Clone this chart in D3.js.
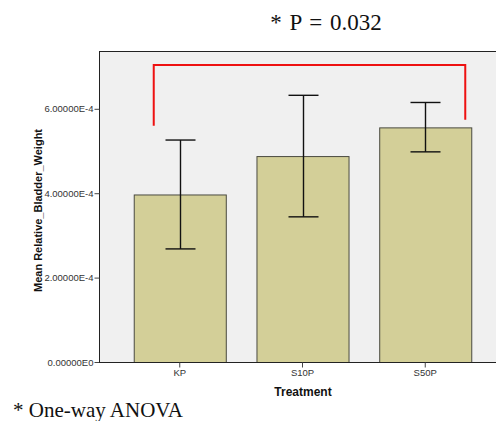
<!DOCTYPE html>
<html>
<head>
<meta charset="utf-8">
<script src="https://d3js.org/d3.v7.min.js"></script>
<style>
  body { margin: 0; background: #fff; }
  svg { display: block; }
</style>
</head>
<body>
<div id="chart"></div>
<script>
// data
const groups = ["KP", "S10P", "S50P"];
const means  = [3.97e-4, 4.88e-4, 5.56e-4];
const errLow = [2.68e-4, 3.44e-4, 4.98e-4];
const errHigh = [5.26e-4, 6.32e-4, 6.15e-4];
const yTicks = [0, 2e-4, 4e-4, 6e-4];
const yTickLabels = ["0.00000E0", "2.00000E-4", "4.00000E-4", "6.00000E-4"];
// significance bracket: level and the two leg ends
const bracketTop = 7.04e-4;
const bracketLegs = [5.6e-4, 5.74e-4];
const pText = "* P = 0.032";
const noteText = "* One-way ANOVA";

const W = 496, H = 421;
const plot = { left: 99, right: 506, top: 51, bottom: 362 };

const svg = d3.select("#chart").append("svg")
    .attr("width", W)
    .attr("height", H);

const x = d3.scaleBand()
    .domain(groups)
    .range([plot.left, plot.right])
    .paddingInner(0.25)
    .paddingOuter(0.283);

const y = d3.scaleLinear()
    .domain([0, 7.37e-4])
    .range([plot.bottom, plot.top]);

// plot background
svg.append("rect")
    .attr("x", plot.left).attr("y", plot.top)
    .attr("width", plot.right - plot.left)
    .attr("height", plot.bottom - plot.top)
    .attr("fill", "#f0f0f0");

svg.append("line")
    .attr("x1", plot.left).attr("x2", plot.right)
    .attr("y1", plot.top + 0.5).attr("y2", plot.top + 0.5)
    .attr("stroke", "#222");

// bars
svg.selectAll("rect.bar")
    .data(groups).enter().append("rect")
    .attr("class", "bar")
    .attr("x", d => x(d) + 0.5)
    .attr("y", (d, i) => y(means[i]) + 0.5)
    .attr("width", x.bandwidth())
    .attr("height", (d, i) => y(0) - y(means[i]))
    .attr("fill", "#d3cf98")
    .attr("stroke", "#4a4a40")
    .attr("stroke-width", 1);

// error bars
const eb = svg.selectAll("g.err")
    .data(groups).enter().append("g")
    .attr("class", "err")
    .attr("stroke", "#111")
    .attr("stroke-width", 1.4);
const cx = d => Math.round(x(d) + x.bandwidth() / 2) + 0.5;
eb.append("line")
    .attr("x1", cx).attr("x2", cx)
    .attr("y1", (d, i) => y(errLow[i]))
    .attr("y2", (d, i) => y(errHigh[i]));
eb.append("line")
    .attr("x1", d => cx(d) - 15).attr("x2", d => cx(d) + 15)
    .attr("y1", (d, i) => y(errLow[i])).attr("y2", (d, i) => y(errLow[i]));
eb.append("line")
    .attr("x1", d => cx(d) - 15).attr("x2", d => cx(d) + 15)
    .attr("y1", (d, i) => y(errHigh[i])).attr("y2", (d, i) => y(errHigh[i]));

// axes
const yAxis = svg.append("g")
    .attr("transform", `translate(${plot.left + 0.5},0)`)
    .call(d3.axisLeft(y).tickValues(yTicks).tickSize(5).tickSizeOuter(0)
        .tickFormat((d, i) => yTickLabels[i]));
yAxis.select(".domain").attr("stroke", "#222")
    .attr("d", `M0,${plot.top}V${plot.bottom}`);
yAxis.selectAll(".tick line").attr("stroke", "#444");
yAxis.selectAll(".tick text")
    .attr("x", -6)
    .attr("fill", "#333")
    .style("font-family", "Liberation Sans, Arial, sans-serif")
    .style("font-size", "9.5px");

const xAxis = svg.append("g")
    .attr("transform", `translate(0,${plot.bottom + 0.5})`)
    .call(d3.axisBottom(x).tickSize(5).tickSizeOuter(0));
xAxis.select(".domain").attr("stroke", "#222")
    .attr("d", `M${plot.left},0H${plot.right}`);
xAxis.selectAll(".tick line").attr("stroke", "#444");
xAxis.selectAll(".tick text")
    .attr("y", 7)
    .attr("fill", "#333")
    .style("font-family", "Liberation Sans, Arial, sans-serif")
    .style("font-size", "9.5px");

// axis titles
svg.append("text")
    .attr("x", 303).attr("y", 396)
    .attr("text-anchor", "middle")
    .style("font-family", "Liberation Sans, Arial, sans-serif")
    .style("font-weight", "bold")
    .style("font-size", "12px")
    .attr("fill", "#111")
    .text("Treatment");

svg.append("text")
    .attr("transform", `translate(42,${(plot.top + plot.bottom) / 2 + 4}) rotate(-90)`)
    .attr("text-anchor", "middle")
    .style("font-family", "Liberation Sans, Arial, sans-serif")
    .style("font-weight", "bold")
    .style("font-size", "11px")
    .attr("fill", "#111")
    .text("Mean Relative_Bladder_Weight");

// significance bracket
const bx1 = x(groups[0]) + 20, bx2 = x(groups[2]) + x.bandwidth() - 6;
svg.append("path")
    .attr("d", `M${bx1},${y(bracketLegs[0])}V${y(bracketTop)}H${bx2}V${y(bracketLegs[1])}`)
    .attr("fill", "none")
    .attr("stroke", "#ee1111")
    .attr("stroke-width", 2);

svg.append("text")
    .attr("x", 326).attr("y", 30)
    .attr("text-anchor", "middle")
    .style("font-family", "Liberation Serif, serif")
    .style("font-size", "23px")
    .style("word-spacing", "2px")
    .attr("fill", "#111")
    .text(pText);

svg.append("text")
    .attr("x", 13).attr("y", 417)
    .style("font-family", "Liberation Serif, serif")
    .style("font-size", "21px")
    .attr("fill", "#111")
    .text(noteText);
</script>
</body>
</html>
